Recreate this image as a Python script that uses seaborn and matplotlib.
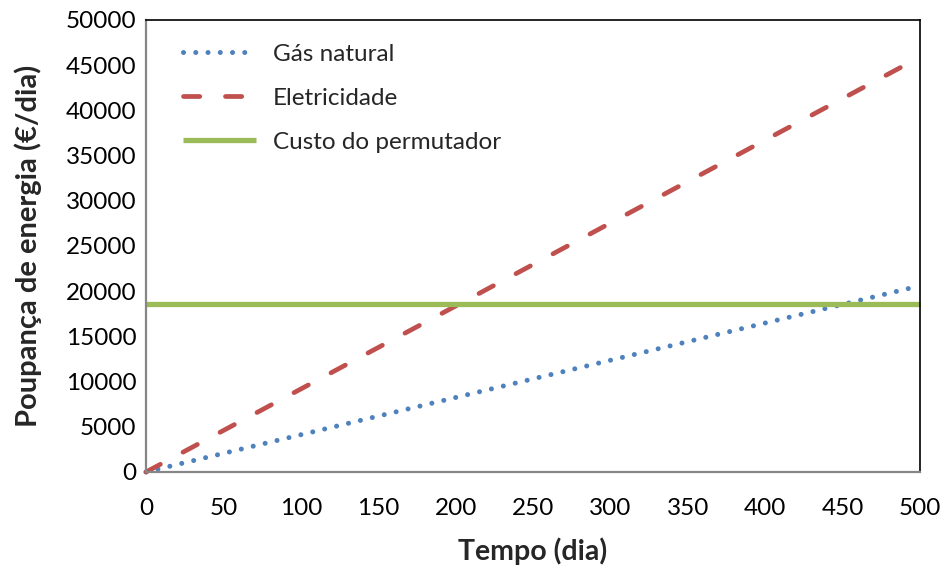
import matplotlib
matplotlib.use("Agg")
import matplotlib.pyplot as plt
import seaborn as sns
import pandas as pd

# Data
dias = [0, 500]
gas_natural = [0, 20600]
eletricidade = [0, 45900]
custo_permutador = [18600, 18600]
series_names = ["Gás natural", "Eletricidade", "Custo do permutador"]
x_ticks = list(range(0, 501, 50))
y_ticks = list(range(0, 50001, 5000))

sns.set_style("white")
plt.rcParams['font.family'] = ['Lato', 'DejaVu Sans']

df = pd.DataFrame({
    "dia": dias * 3,
    "valor": gas_natural + eletricidade + custo_permutador,
    "serie": [series_names[0]] * 2 + [series_names[1]] * 2 + [series_names[2]] * 2,
})

fig = plt.figure(figsize=(9.42, 5.65), dpi=100)
ax = fig.add_axes([146/942, 1 - 472/565, (920-146)/942, (472-20)/565])

colors = {"Gás natural": "#4F81BD", "Eletricidade": "#C0504D", "Custo do permutador": "#9BBB59"}
sns.lineplot(data=df, x="dia", y="valor", hue="serie", palette=colors,
             hue_order=series_names, ax=ax, legend=False)

lines = ax.get_lines()
# gas: dotted
lines[0].set_linewidth(3.6)
lines[0].set_dashes((0.01, 2.44))
lines[0].set_dash_capstyle("round")
# eletricidade: dashed
lines[1].set_linewidth(3.4)
lines[1].set_dashes((3.45, 5.44))
lines[1].set_dash_capstyle("round")
# permutador: solid
lines[2].set_linewidth(3.8)
lines[2].set_solid_capstyle("butt")
for ln in lines:
    ln.set_clip_on(False)

ax.set_xlim(0, 500)
ax.set_ylim(0, 50000)
ax.set_xticks(x_ticks)
ax.set_yticks(y_ticks)
ax.tick_params(axis="both", length=0, labelsize=17.5, colors="black")
ax.tick_params(axis="y", pad=7)
ax.tick_params(axis="x", pad=19)

for s in ["left", "bottom"]:
    ax.spines[s].set_color("#868686")
    ax.spines[s].set_linewidth(1.6)
for s in ["top", "right"]:
    ax.spines[s].set_color("black")
    ax.spines[s].set_linewidth(1.2)

ax.set_xlabel("Tempo (dia)", fontsize=20.5, fontweight="bold", labelpad=13)
ax.set_ylabel("Poupança de energia (€/dia)", fontsize=21, fontweight="bold", labelpad=17)

leg = ax.legend(lines, series_names, loc="upper left", bbox_to_anchor=(0.048, 0.948),
                frameon=False, fontsize=17.5, handlelength=3.0, handletextpad=0.7,
                labelspacing=0.95, borderpad=0, borderaxespad=0)

fig.savefig("out.png", dpi=100)
